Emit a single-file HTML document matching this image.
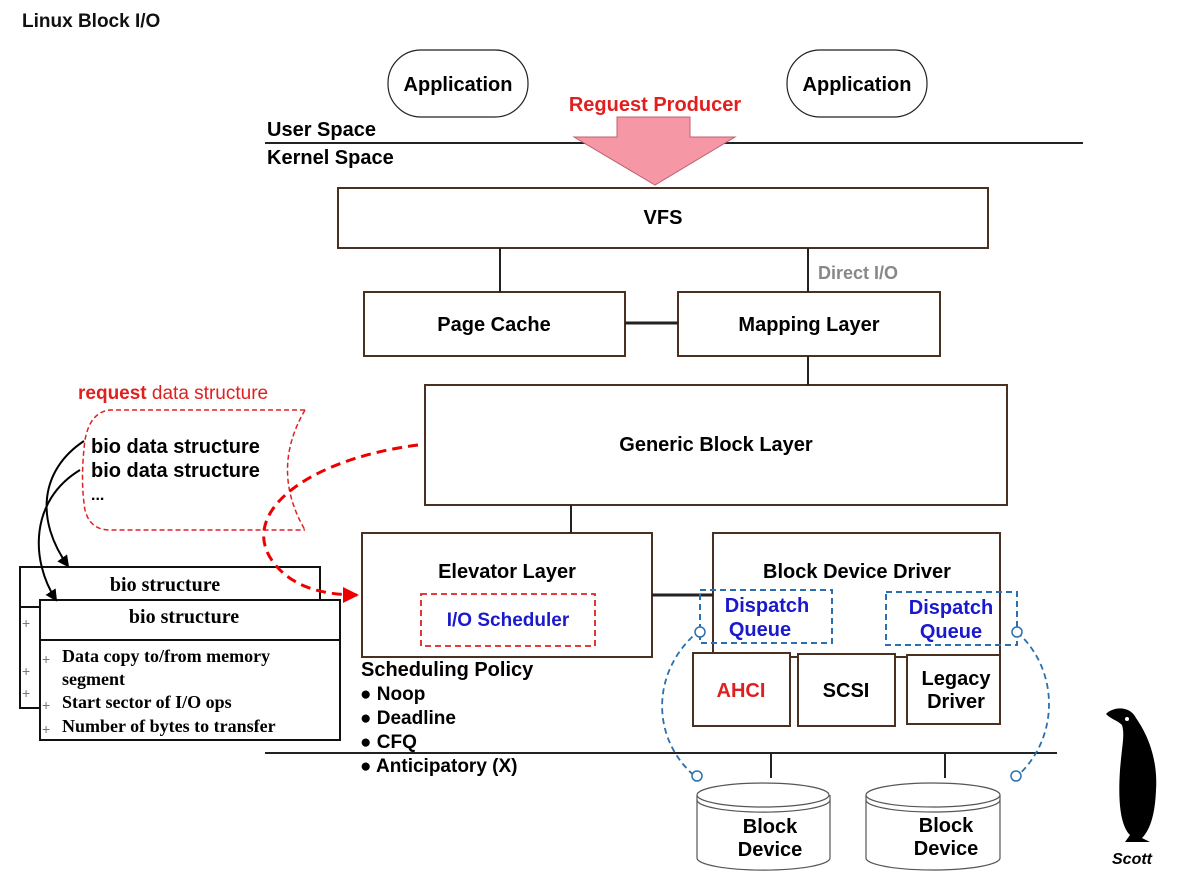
<!DOCTYPE html>
<html><head><meta charset="utf-8"><style>
html,body{margin:0;padding:0;background:#fff;}
svg{display:block;}
text{font-family:"Liberation Sans",sans-serif;}
.s,.s text{font-family:"Liberation Serif",serif;font-weight:bold;}
</style></head><body>
<svg width="1193" height="886" viewBox="0 0 1193 886" xmlns="http://www.w3.org/2000/svg">
<defs>
<marker id="ab" markerWidth="12" markerHeight="12" refX="10" refY="6" orient="auto" markerUnits="userSpaceOnUse"><path d="M0,0 L12,6 L0,12 z" fill="#000"/></marker>
<marker id="ar" markerWidth="16" markerHeight="16" refX="14" refY="8" orient="auto" markerUnits="userSpaceOnUse"><path d="M0,0 L16,8 L0,16 z" fill="#e00"/></marker>
</defs>
<text x="22" y="27" font-size="19" font-weight="bold" fill="#111">Linux Block I/O</text>
<rect x="388" y="50" width="140" height="67" rx="33" fill="#fff" stroke="#222" stroke-width="1.2"/>
<text x="458" y="91" font-size="20" text-anchor="middle" font-weight="bold">Application</text>
<rect x="787" y="50" width="140" height="67" rx="33" fill="#fff" stroke="#222" stroke-width="1.2"/>
<text x="857" y="91" font-size="20" text-anchor="middle" font-weight="bold">Application</text>
<line x1="265" y1="143" x2="1083" y2="143" stroke="#222" stroke-width="2"/>
<path d="M617,117 L690,117 L690,137 L735,137 L655,185 L574,137 L617,137 Z" fill="#f597a5" stroke="#c06070" stroke-width="1"/>
<text x="655" y="111" font-size="20" fill="#e02020" text-anchor="middle" font-weight="bold">Reguest Producer</text>
<text x="267" y="136" font-size="20" font-weight="bold">User Space</text>
<text x="267" y="164" font-size="20" font-weight="bold">Kernel Space</text>
<g fill="#fff" stroke="#4a3020" stroke-width="2">
<rect x="338" y="188" width="650" height="60"/>
<rect x="364" y="292" width="261" height="64"/>
<rect x="678" y="292" width="262" height="64"/>
<rect x="425" y="385" width="582" height="120"/>
<rect x="362" y="533" width="290" height="124"/>
<rect x="713" y="533" width="287" height="124"/>
<rect x="693" y="653" width="97" height="73"/>
<rect x="798" y="654" width="97" height="72"/>
<rect x="907" y="655" width="93" height="69"/>
</g>
<g stroke="#222" stroke-width="2">
<line x1="500" y1="248" x2="500" y2="292"/>
<line x1="808" y1="248" x2="808" y2="292"/>
<line x1="625" y1="323" x2="678" y2="323" stroke-width="3"/>
<line x1="808" y1="356" x2="808" y2="385"/>
<line x1="571" y1="505" x2="571" y2="533"/>
<line x1="652" y1="595" x2="713" y2="595" stroke-width="3"/>
<line x1="265" y1="753" x2="1057" y2="753"/>
<line x1="771" y1="753" x2="771" y2="778"/>
<line x1="945" y1="753" x2="945" y2="778"/>
</g>
<g font-size="20" font-weight="bold" text-anchor="middle">
<text x="663" y="224">VFS</text>
<text x="494" y="331">Page Cache</text>
<text x="809" y="331">Mapping Layer</text>
<text x="716" y="451">Generic Block Layer</text>
<text x="507" y="578">Elevator Layer</text>
<text x="857" y="578">Block Device Driver</text>
<text x="741" y="697" fill="#e02020">AHCI</text>
<text x="846" y="697">SCSI</text>
<text x="956" y="685">Legacy</text>
<text x="956" y="708">Driver</text>
</g>
<text x="818" y="279" font-size="18" fill="#888" font-weight="bold">Direct I/O</text>
<rect x="421" y="594" width="174" height="52" fill="none" stroke="#e02020" stroke-width="1.8" stroke-dasharray="6,4"/>
<text x="508" y="626" font-size="19" fill="#1a1acc" text-anchor="middle" font-weight="bold">I/O Scheduler</text>
<rect x="700" y="590" width="132" height="53" fill="none" stroke="#2a70b0" stroke-width="2" stroke-dasharray="6,4"/>
<rect x="886" y="592" width="131" height="53" fill="none" stroke="#2a70b0" stroke-width="2" stroke-dasharray="6,4"/>
<g font-size="20" fill="#1a1acc" text-anchor="middle" font-weight="bold">
<text x="767" y="612">Dispatch</text>
<text x="760" y="636">Queue</text>
<text x="951" y="614">Dispatch</text>
<text x="951" y="638">Queue</text>
</g>
<g fill="none" stroke="#2a70b0" stroke-width="1.8" stroke-dasharray="6,4">
<path d="M700,630 C650,670 650,740 697,778"/>
<path d="M1017,632 C1060,670 1060,740 1015,778"/>
</g>
<g fill="#fff" stroke="#2a70b0" stroke-width="1.5">
<circle cx="700" cy="632" r="5"/><circle cx="697" cy="776" r="5"/>
<circle cx="1017" cy="632" r="5"/><circle cx="1016" cy="776" r="5"/>
</g>
<g fill="#fff" stroke="#555" stroke-width="1.2">
<path d="M697,795 L697,858 A66,12 0 0 0 830,858 L830,795"/>
<ellipse cx="763" cy="795" rx="66" ry="12"/>
<path d="M697,800 A66,12 0 0 0 830,800" fill="none"/>
<path d="M866,795 L866,858 A67,12 0 0 0 1000,858 L1000,795"/>
<ellipse cx="933" cy="795" rx="67" ry="12"/>
<path d="M866,800 A67,12 0 0 0 1000,800" fill="none"/>
</g>
<g font-size="20" text-anchor="middle" font-weight="bold">
<text x="770" y="833">Block</text>
<text x="770" y="856">Device</text>
<text x="946" y="832">Block</text>
<text x="946" y="855">Device</text>
</g>
<text x="361" y="676" font-size="20" font-weight="bold">Scheduling Policy</text>
<g font-size="19" font-weight="bold">
<text x="360" y="700">● Noop</text>
<text x="360" y="724">● Deadline</text>
<text x="360" y="748">● CFQ</text>
<text x="360" y="772">● Anticipatory (X)</text>
</g>
<text x="78" y="399" font-size="19" fill="#e02020"><tspan font-weight="bold">request</tspan> data structure</text>
<path d="M305,410 L110,410 Q90,412 85,440 Q80,480 85,510 Q90,530 110,530 L305,530" fill="none" stroke="#e02020" stroke-width="1.5" stroke-dasharray="5,3"/>
<path d="M305,410 Q270,470 305,530" fill="none" stroke="#e02020" stroke-width="1.5" stroke-dasharray="5,3"/>
<g font-size="20" font-weight="bold">
<text x="91" y="453">bio data structure</text>
<text x="91" y="477">bio data structure</text>
<text x="91" y="500" font-size="16">...</text>
</g>
<rect x="20" y="567" width="300" height="141" fill="#fff" stroke="#111" stroke-width="2"/>
<line x1="20" y1="607" x2="320" y2="607" stroke="#111" stroke-width="2"/>
<text x="165" y="591" font-size="20" class="s" text-anchor="middle">bio structure</text>
<g font-size="14" fill="#777"><text x="22" y="628">+</text><text x="22" y="676">+</text><text x="22" y="698">+</text></g>
<rect x="40" y="600" width="300" height="140" fill="#fff" stroke="#111" stroke-width="2"/>
<line x1="40" y1="640" x2="340" y2="640" stroke="#111" stroke-width="2"/>
<text x="184" y="623" font-size="20" class="s" text-anchor="middle">bio structure</text>
<g font-size="18" class="s"><text x="62" y="662">Data copy to/from memory</text><text x="62" y="685">segment</text><text x="62" y="708">Start sector of I/O ops</text><text x="62" y="732">Number of bytes to transfer</text></g>
<g font-size="14" fill="#777"><text x="42" y="664">+</text><text x="42" y="710">+</text><text x="42" y="734">+</text></g>
<path d="M84,441 C40,470 35,520 68,566" fill="none" stroke="#000" stroke-width="2" marker-end="url(#ab)"/>
<path d="M80,470 C30,500 30,560 56,600" fill="none" stroke="#000" stroke-width="2" marker-end="url(#ab)"/>
<path d="M418,445 C300,460 230,520 280,570 C300,590 330,595 357,595" fill="none" stroke="#e00" stroke-width="3" stroke-dasharray="10,6" marker-end="url(#ar)"/>
<g fill="#000">
<path d="M1106,714 C1114,706 1130,706 1136,718 C1148,735 1158,760 1156,790 C1155,815 1150,830 1142,838 L1150,842 L1125,842 L1130,835 C1120,825 1118,800 1120,770 C1122,745 1125,735 1122,725 C1117,720 1112,720 1106,714 Z"/>
</g>
<circle cx="1127" cy="719" r="2" fill="#fff"/>
<text x="1112" y="864" font-size="16" font-style="italic" font-weight="bold">Scott</text>
</svg>
</body></html>
